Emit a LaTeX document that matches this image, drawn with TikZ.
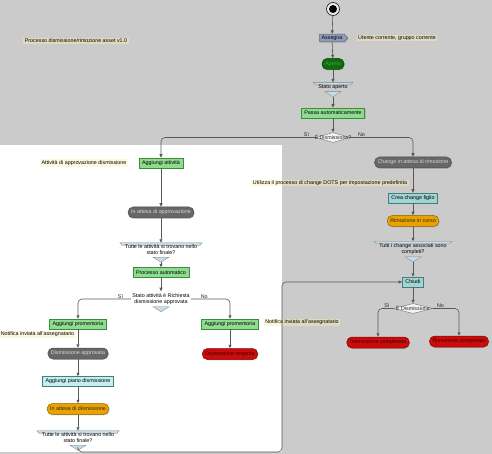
\documentclass[tikz,border=0pt]{standalone}
\usepackage{fontspec}
\setmainfont{Liberation Sans}
\usetikzlibrary{arrows.meta,shapes.geometric,shapes.symbols,shadows}

\definecolor{bggray}{HTML}{CBCBCB}
\definecolor{notefill}{HTML}{FAF0B4}
\definecolor{actgreen}{HTML}{8FDB8F}
\definecolor{actgreenline}{HTML}{3C8C3C}
\definecolor{actteal}{HTML}{A3D3D3}
\definecolor{acttealline}{HTML}{3F7F7F}
\definecolor{actcyan}{HTML}{C4EEF0}
\definecolor{stgray}{HTML}{676767}
\definecolor{storange}{HTML}{E9A200}
\definecolor{stred}{HTML}{CC0B0B}
\definecolor{stgreen}{HTML}{0B6E0B}
\definecolor{assignfill}{HTML}{8E9CB9}
\definecolor{decfill}{HTML}{C6DCE8}

\pgfdeclarelayer{back}
\pgfsetlayers{back,main}

\newcommand{\decvee}[1]{%
  \coordinate (#1v) at ([yshift=-5pt]#1.south);
  \begin{pgfonlayer}{back}
    \filldraw[decshape] ([xshift=-8pt]#1.south) -- ([xshift=8pt]#1.south) -- (#1v) -- cycle;
  \end{pgfonlayer}}
\newcommand{\decmark}[1]{%
  \decvee{#1}
  \begin{pgfonlayer}{back}
    \filldraw[decshape] ([xshift=-4pt]#1.north west) -- ([xshift=4pt]#1.north east)
      -- ([xshift=2pt,yshift=-2.5pt]#1.north east) -- ([xshift=-2pt,yshift=-2.5pt]#1.north west) -- cycle;
  \end{pgfonlayer}}

\begin{document}
\begin{tikzpicture}[x=1pt, y=-1pt,
  every node/.style={font=\fontsize{5.35}{6.1}\selectfont},
  shade/.style={drop shadow={shadow xshift=0.8pt, shadow yshift=-0.8pt, opacity=0.3}},
  act/.style={draw=actgreenline, fill=actgreen, inner xsep=3pt, inner ysep=1pt,
    minimum height=10pt, line width=0.5pt, shade},
  tealbox/.style={act, draw=acttealline, fill=actteal},
  cyanbox/.style={act, draw=acttealline, fill=actcyan},
  stbox/.style={rounded corners=5pt, draw=black!70, fill=stgray, text=white!85!black,
    inner xsep=3pt, inner ysep=1pt, minimum height=11pt, line width=0.5pt, shade},
  orangebox/.style={stbox, fill=storange, draw=storange!60!black, text=black!85},
  redbox/.style={stbox, fill=stred, draw=stred!60!black, text=black!75!red},
  greenbox/.style={stbox, fill=stgreen, draw=stgreen!60!black, text=stgreen!70!white,
    minimum width=22pt},
  assign/.style={signal, signal to=east, signal pointer angle=100, draw=black!60,
    fill=assignfill, inner xsep=2pt, inner ysep=1.5pt, line width=0.5pt, shade},
  startnode/.style={circle, draw=black!85, line width=0.7pt, fill=white!85!gray,
    minimum size=13pt, inner sep=0pt,
    path picture={\fill[black] (path picture bounding box.center) circle (4pt);}},
  note/.style={fill=notefill, fill opacity=0.45, text opacity=1, inner xsep=1.5pt, inner ysep=1pt},
  dec/.style={align=center, inner xsep=1pt, inner ysep=2pt},
  decshape/.style={fill=decfill, draw=black!50, line width=0.3pt},
  diam/.style={diamond, draw=black!55, fill=white!92!gray, inner sep=0pt,
    minimum height=10pt, line width=0.4pt},
  lbl/.style={inner sep=0.5pt, text=black!85},
  flow/.style={draw=black!65, line width=0.6pt, rounded corners=4pt,
    -{Triangle[length=3.5pt,width=3pt]}}]

  \useasboundingbox (0,0) rectangle (492,454);
  \begin{pgfonlayer}{back}
    \fill[bggray] (0,0) rectangle (492,454);
    \fill[white] (0,145) rectangle (282,452);
  \end{pgfonlayer}

  \node[note] (titolo) at (76,41) {Processo dismissione/rimozione asset v1.0};

  \node[startnode] (start) at (333,9) {};
  \node[assign] (assegna) at (332,38) {Assegna};
  \node[note] (notautente) at (397,38) {Utente corrente, gruppo corrente};
  \node[greenbox] (aperto) at (333,64) {Aperto};
  \node[dec] (statoap) at (333,87) {Stato aperto};
  \decmark{statoap}
  \node[act] (passa) at (333,113) {Passa automaticamente};
  \node[diam, minimum width=34pt] (isdis) at (333,137.5) {};
  \node[lbl] (isdistxt) at (isdis) {È Dismissione?};

  \node[stbox] (chattesa) at (413,162.5) {Change in attesa di rimozione};
  \node[note] (notadots) at (330,183) {Utilizza il processo di change DOTS per impostazione predefinita};
  \node[tealbox] (creachange) at (413,198) {Crea change figlio};
  \node[orangebox] (rimcorso) at (413,221) {Rimozione in corso};
  \node[dec] (tutticomp) at (413,249) {Tutti i change associati sono\\completi?};
  \decmark{tutticomp}
  \node[tealbox] (chiudi) at (413,282) {Chiudi};
  \node[diam, minimum width=40pt] (isdisfin) at (413,308.5) {};
  \node[lbl] (isdisfintxt) at (isdisfin) {È Dismissione};
  \node[redbox] (discompl) at (378,342.5) {Dismissione completata};
  \node[redbox] (rimcompl) at (459,341.5) {Rimozione completata};

  \node[note] (notaapp) at (84,163) {Attività di approvazione dismissione};
  \node[act] (aggatt) at (161,163) {Aggiungi attività};
  \node[stbox] (attapp) at (161,212.5) {In attesa di approvazione};
  \node[dec] (tuttefin) at (161,250) {Tutte le attività si trovano nello\\stato finale?};
  \decmark{tuttefin}
  \node[act] (procauto) at (161,272.5) {Processo automatico};
  \node[dec] (statoatt) at (161,299) {Stato attività è Richiesta\\dismissione approvata};
  \decvee{statoatt}
  \node[act] (promsi) at (78,324) {Aggiungi promemoria};
  \node[note] (notasi) at (37.5,334.5) {Notifica inviata all'assegnatario};
  \node[stbox] (disapp) at (78,353.5) {Dismissione approvata};
  \node[cyanbox] (pianodis) at (78,381.5) {Aggiungi piano dismissione};
  \node[orangebox] (attdis) at (78,409) {In attesa di dismissione};
  \node[dec] (tuttefinb) at (78,438) {Tutte le attività si trovano nello\\stato finale?};
  \decmark{tuttefinb}
  \node[act] (promno) at (230,324) {Aggiungi promemoria};
  \node[note] (notano) at (302,322.5) {Notifica inviata all'assegnatario};
  \node[redbox] (disresp) at (230,354) {Dismissione respinta};

  \coordinate (ritorno) at (282,452);

  \draw[flow] (start) -- (assegna);
  \draw[flow] (assegna) -- (aperto);
  \draw[flow] (aperto) -- (statoap);
  \draw[flow] (statoapv) -- (passa);
  \draw[flow] (passa) -- (isdis);
  \draw[flow] (isdis.west) -| node[lbl, pos=0.03, above] (sitop) {Sì} (aggatt);
  \draw[flow] (isdis.east) -| node[lbl, pos=0.09, above] (notop) {No} (chattesa);

  \draw[flow] (chattesa) -- (creachange);
  \draw[flow] (creachange) -- (rimcorso);
  \draw[flow] (rimcorso) -- (tutticomp);
  \draw[flow] (tutticompv) -- (chiudi);
  \draw[flow] (chiudi) -- (isdisfin);
  \draw[flow] (isdisfin.west) -| node[lbl, pos=0.2, above] (sifin) {Sì} (discompl);
  \draw[flow] (isdisfin.east) -| node[lbl, pos=0.14, above] (nofin) {No} (rimcompl);

  \draw[flow] (aggatt) -- (attapp);
  \draw[flow] (attapp) -- (tuttefin);
  \draw[flow] (tuttefinv) -- (procauto);
  \draw[flow] (procauto) -- (statoatt);
  \draw[flow] (statoatt.west) -| node[lbl, pos=0.1, above] (siatt) {Sì} (promsi);
  \draw[flow] (statoatt.east) -| node[lbl, pos=0.17, above] (noatt) {No} (promno);
  \draw[flow] (promsi) -- (disapp);
  \draw[flow] (disapp) -- (pianodis);
  \draw[flow] (pianodis) -- (attdis);
  \draw[flow] (attdis) -- (tuttefinb);
  \draw[flow] (promno) -- (disresp);
  \draw[flow] (tuttefinbv) |- (ritorno) |- (chiudi);
\end{tikzpicture}
\end{document}
